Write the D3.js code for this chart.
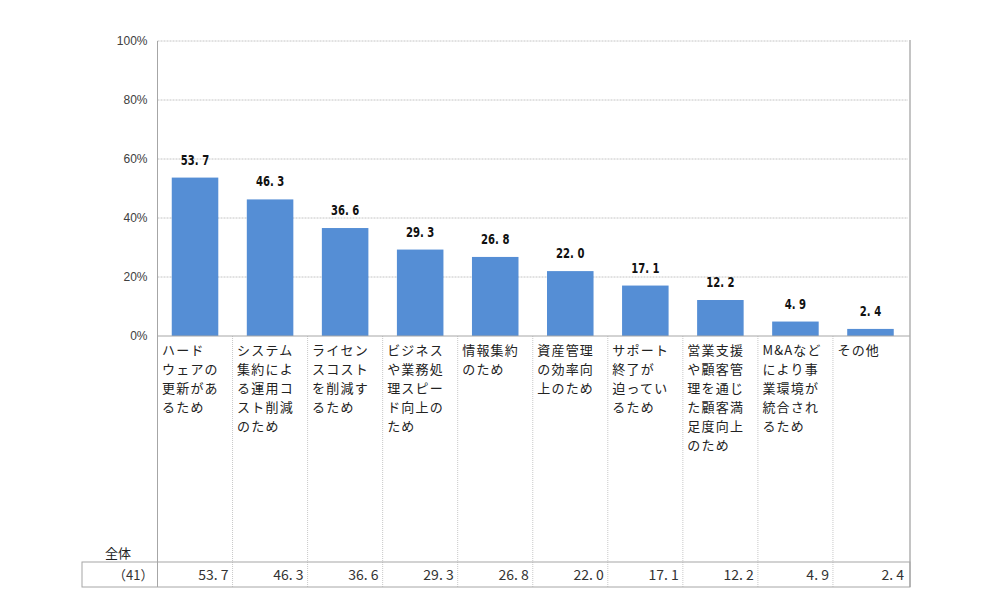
<!DOCTYPE html>
<html>
<head>
<meta charset="utf-8">
<script src="https://cdn.jsdelivr.net/npm/d3@7"></script>
<style>
  body { margin: 0; background: #fff; }
  svg { display: block; }
</style>
</head>
<body>
<svg width="1000" height="616"></svg>
<script>
// categories, wrapped the way the picture shows them
const categories = [
    ["ハード", "ウェアの", "更新があ", "るため"],
    ["システム", "集約によ", "る運用コ", "スト削減", "のため"],
    ["ライセン", "スコスト", "を削減す", "るため"],
    ["ビジネス", "や業務処", "理スピー", "ド向上の", "ため"],
    ["情報集約", "のため"],
    ["資産管理", "の効率向", "上のため"],
    ["サポート", "終了が", "迫ってい", "るため"],
    ["営業支援", "や顧客管", "理を通じ", "た顧客満", "足度向上", "のため"],
    ["M&Aなど", "により事", "業環境が", "統合され", "るため"],
    ["その他"]
];
const values = [53.7, 46.3, 36.6, 29.3, 26.8, 22.0, 17.1, 12.2, 4.9, 2.4];
const yTicks = [0, 20, 40, 60, 80, 100];
const rowLabel = "全体";
const rowCount = "（41）";

const svg = d3.select("svg");

const plotLeft = 157.5, plotRight = 908, plotTop = 41, plotBase = 336;
const tableTop = 562, tableBottom = 587, tableLeft = 82, frameRight = 910;

const keys = categories.map((c, i) => i);

const xCol = d3.scaleBand()
    .domain(keys)
    .range([plotLeft, plotRight])
    .padding(0);

const xBar = d3.scaleBand()
    .domain(keys)
    .range([plotLeft, plotRight])
    .paddingInner(0.38)
    .paddingOuter(0.19);

const yScale = d3.scaleLinear()
    .domain([0, 100])
    .range([plotBase, plotTop]);

const fmt = v => d3.format(".1f")(v).replace(".", ". ");

// gridlines
svg.append("g")
    .selectAll("line")
    .data(yTicks.filter(t => t > 0))
    .enter()
    .append("line")
    .attr("x1", plotLeft)
    .attr("x2", plotRight)
    .attr("y1", d => yScale(d))
    .attr("y2", d => yScale(d))
    .attr("stroke", "#c4c4c4")
    .attr("stroke-dasharray", "2,1");

// y axis labels
const yAxis = svg.append("g")
    .attr("transform", `translate(${plotLeft},0)`)
    .call(d3.axisLeft(yScale).tickValues(yTicks).tickFormat(d => d + "%").tickSize(0).tickPadding(10));
yAxis.select(".domain").remove();
yAxis.selectAll("text")
    .attr("font-family", "Liberation Sans, Arial, sans-serif")
    .attr("font-size", 12)
    .attr("fill", "#404040");

// column dividers below the baseline
svg.append("g")
    .selectAll("line")
    .data(keys.slice(1))
    .enter()
    .append("line")
    .attr("x1", d => xCol(d))
    .attr("x2", d => xCol(d))
    .attr("y1", plotBase)
    .attr("y2", tableBottom)
    .attr("stroke", "#c8c8c8")
    .attr("stroke-dasharray", "1,1");

// bars
svg.selectAll(".bar")
    .data(values)
    .enter()
    .append("rect")
    .attr("class", "bar")
    .attr("x", (d, i) => xBar(i))
    .attr("width", xBar.bandwidth())
    .attr("y", d => yScale(d))
    .attr("height", d => plotBase - yScale(d))
    .attr("fill", "#558ed5");

// bar value labels (narrow bold, squeezed horizontally)
svg.selectAll(".bar-label")
    .data(values)
    .enter()
    .append("text")
    .attr("class", "bar-label")
    .attr("transform", (d, i) => `translate(${xBar(i) + xBar.bandwidth() / 2},${yScale(d) - 13}) scale(0.72,1)`)
    .attr("text-anchor", "middle")
    .attr("font-family", "DejaVu Sans, sans-serif")
    .attr("font-weight", "bold")
    .attr("font-size", 14)
    .attr("fill", "#111")
    .text(d => fmt(d));

// baseline, axis line and frame
svg.append("line")
    .attr("x1", plotLeft).attr("x2", frameRight)
    .attr("y1", plotBase).attr("y2", plotBase)
    .attr("stroke", "#a6a6a6");
svg.append("line")
    .attr("x1", plotLeft).attr("x2", plotLeft)
    .attr("y1", plotTop).attr("y2", tableBottom)
    .attr("stroke", "#a6a6a6");
svg.append("line")
    .attr("x1", frameRight).attr("x2", frameRight)
    .attr("y1", plotTop - 1).attr("y2", tableBottom)
    .attr("stroke", "#b0b0b0")
    .attr("stroke-width", 1.5);

// category labels
const catLabels = svg.selectAll(".cat")
    .data(categories)
    .enter()
    .append("text")
    .attr("class", "cat")
    .attr("font-family", "Noto Sans CJK JP, sans-serif")
    .attr("font-size", 13)
    .attr("letter-spacing", 1.2)
    .attr("fill", "#222");

catLabels.selectAll("tspan")
    .data((d, i) => d.map(line => ({line, i})))
    .enter()
    .append("tspan")
    .attr("x", d => xCol(d.i) + 4.5)
    .attr("y", (d, j) => 355 + j * 19)
    .text(d => d.line);

// table
svg.append("rect")
    .attr("x", tableLeft)
    .attr("y", tableTop)
    .attr("width", frameRight - tableLeft)
    .attr("height", tableBottom - tableTop)
    .attr("fill", "none")
    .attr("stroke", "#a6a6a6");

svg.append("text")
    .attr("x", 105)
    .attr("y", 558)
    .attr("font-family", "Noto Sans CJK JP, sans-serif")
    .attr("font-size", 13)
    .attr("fill", "#222")
    .text(rowLabel);

svg.append("text")
    .attr("x", plotLeft - 4)
    .attr("y", 580)
    .attr("text-anchor", "end")
    .attr("font-family", "Noto Sans CJK JP, sans-serif")
    .attr("font-size", 13)
    .attr("fill", "#333")
    .text(rowCount);

svg.selectAll(".cell")
    .data(values)
    .enter()
    .append("text")
    .attr("class", "cell")
    .attr("x", (d, i) => xCol(i) + xCol.bandwidth() - 4)
    .attr("y", 580)
    .attr("text-anchor", "end")
    .attr("font-family", "Noto Sans CJK JP, sans-serif")
    .attr("font-size", 14)
    .attr("fill", "#333")
    .text(d => fmt(d));
</script>
</body>
</html>
